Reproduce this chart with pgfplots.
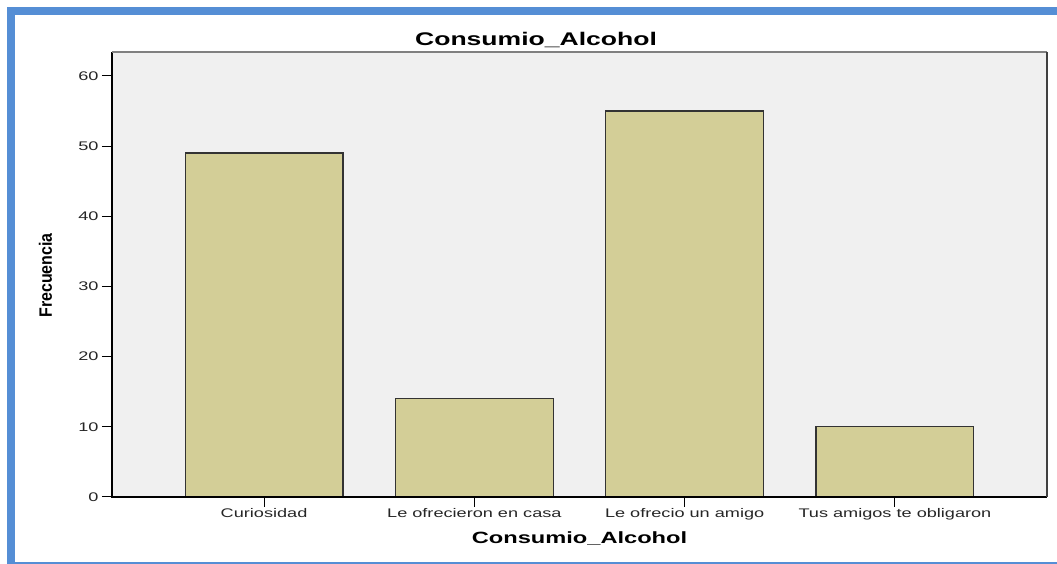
\documentclass[border=0pt]{standalone}
\usepackage{fontspec}
\setmainfont{Liberation Sans}[FakeStretch=1.45]
\newfontfamily\plainsans{Liberation Sans}
\usepackage{pgfplots}
\pgfplotsset{compat=1.18}
\definecolor{barfill}{RGB}{211,206,151}
\definecolor{bgfill}{RGB}{240,240,240}
\definecolor{frameblue}{RGB}{85,142,213}
\begin{document}
\begin{tikzpicture}[x=1pt,y=1pt]
\path[use as bounding box] (0,0) rectangle (1057,564);
\fill[frameblue] (7,549) rectangle (1057,557);
\fill[frameblue] (7,0) rectangle (15,557);
\fill[frameblue] (7,0) rectangle (1057,1.5);
\begin{axis}[
  at={(112pt,67pt)}, anchor=south west,
  scale only axis, width=935pt, height=445pt,
  xmin=-0.723, xmax=3.723, ymin=0, ymax=63.4,
  clip=false,
  axis background/.style={fill=bgfill},
  axis line style={draw=none},
  ybar, bar width=0.75, bar shift=0pt,
  xtick={0,1,2,3},
  xticklabels={Curiosidad,Le ofrecieron en casa,Le ofrecio un amigo,Tus amigos te obligaron},
  ytick={0,10,20,30,40,50,60},
  xtick pos=bottom, ytick pos=left,
  tick align=outside, major tick length=10pt,
  tick style={black, line width=1pt},
  /pgf/number format/assume math mode=true,
  ticklabel style={font=\fontsize{12.5}{14}\selectfont, text=black!85},
  xticklabel style={yshift=2.5pt},
]
\addplot[fill=barfill, draw=black!80, line width=1.3pt] coordinates {(0,49) (1,14) (2,55) (3,10)};
\draw[black, line width=1.5pt] (rel axis cs:0,1) -- (rel axis cs:0,0) -- (rel axis cs:1,0);
\draw[black!50, line width=1.5pt] (rel axis cs:0,1) -- (rel axis cs:1,1);
\draw[black!75, line width=2pt] (rel axis cs:1,1) -- (rel axis cs:1,0);
\node[anchor=base] at (rel axis cs:0.4535,1.0157) {\fontsize{18.3}{20}\selectfont\bfseries Consumio\_Alcohol};
\node[anchor=base] at (rel axis cs:0.5,-0.1056) {\fontsize{16.3}{18}\selectfont\bfseries Consumio\_Alcohol};
\node[rotate=90, anchor=base] at (rel axis cs:-0.0642,0.498) {\scalebox{1}[1.12]{\plainsans\fontsize{16}{18}\selectfont\bfseries Frecuencia}};
\end{axis}
\end{tikzpicture}
\end{document}
